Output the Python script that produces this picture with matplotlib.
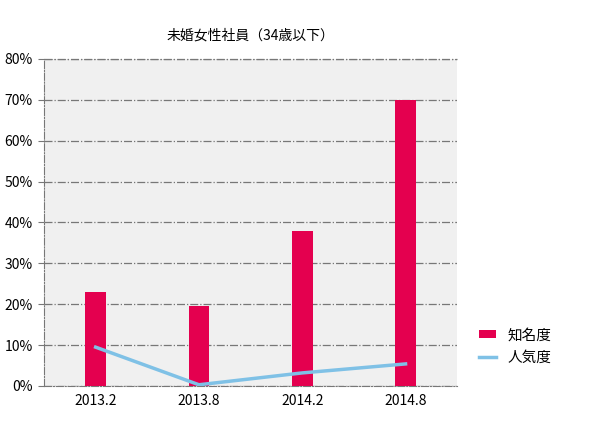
import matplotlib
matplotlib.use('Agg')
import matplotlib.pyplot as plt
import numpy as np

plt.rcParams['font.family'] = ['Noto Sans CJK JP', 'DejaVu Sans']

# Data
periods = ['2013.2', '2013.8', '2014.2', '2014.8']
awareness = [23.0, 19.6, 38.0, 70.0]     # 知名度
popularity = [9.5, 0.3, 3.2, 5.4]        # 人気度
yticks = [0, 10, 20, 30, 40, 50, 60, 70, 80]

C_BAR = '#e4004f'
C_LINE = '#7fc1e6'
C_BG = '#f0f0f0'
C_GRID = '#777777'

fig = plt.figure(figsize=(5.92, 4.36), dpi=100)
ax = fig.add_axes([0.0743, 0.1147, 0.698, 0.75])
ax.set_facecolor(C_BG)

x = np.arange(len(periods))
bars = ax.bar(x, awareness, width=0.2, color=C_BAR, label='知名度', zorder=3)
line, = ax.plot(x, popularity, color=C_LINE, linewidth=2.5, label='人気度', zorder=4)

ax.set_xlim(-0.5, 3.5)
ax.set_ylim(0, 80)
ax.set_yticks(yticks)
ax.set_yticklabels([f'{v}%' for v in yticks], fontsize=10)
ax.set_xticks(x)
ax.set_xticklabels(periods, fontsize=10)
ax.tick_params(axis='x', length=0, pad=6)
ax.tick_params(axis='y', length=4, color=C_GRID, pad=4)

ax.yaxis.grid(True, linestyle='-.', color=C_GRID, linewidth=0.9, zorder=1)
ax.axhline(yticks[-1], linestyle='-.', color=C_GRID, linewidth=0.9,
           clip_on=False, zorder=1)
ax.set_axisbelow(True)
for side in ['top', 'right']:
    ax.spines[side].set_visible(False)
ax.spines['left'].set_linestyle('-.')
ax.spines['left'].set_color(C_GRID)
ax.spines['bottom'].set_linestyle('-.')
ax.spines['bottom'].set_color(C_GRID)

ax.set_title('未婚女性社員（34歳以下）', fontsize=10, pad=14)

ax.legend([bars, line], ['知名度', '人気度'], loc='center left',
          bbox_to_anchor=(1.02, 0.12), frameon=False,
          fontsize=10.5, handlelength=1.2, handleheight=0.5, labelspacing=0.6)

fig.savefig('out.png', dpi=100)
